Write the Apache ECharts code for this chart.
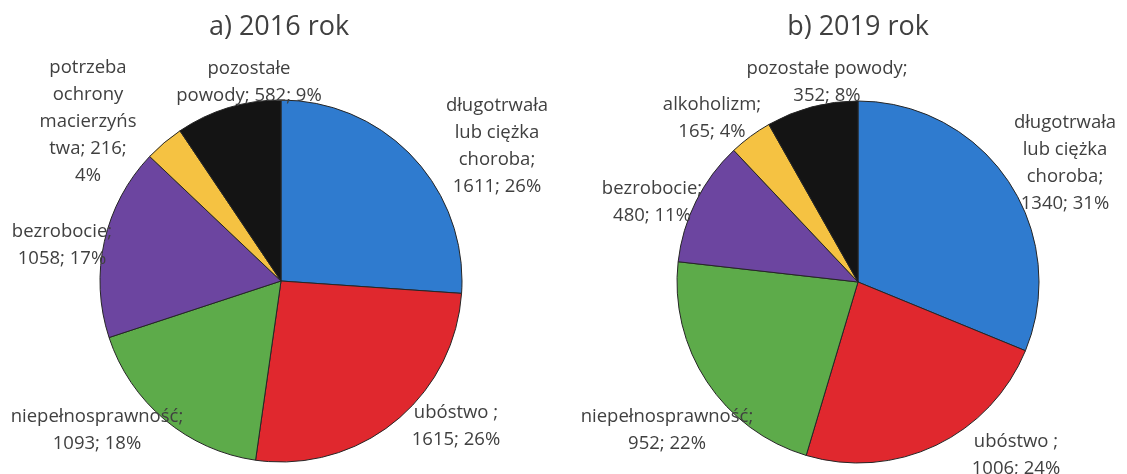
<!DOCTYPE html>
<html>
<head>
<meta charset="utf-8">
<script src="https://cdn.jsdelivr.net/npm/echarts@6/dist/echarts.min.js"></script>
<style>
  html, body { margin: 0; padding: 0; background: #ffffff; }
  #chart { width: 1127px; height: 474px; }
</style>
</head>
<body>
<div id="chart"></div>
<script>
// ---- data ----
const titles = ['a) 2016 rok', 'b) 2019 rok'];
const names2016 = ['długotrwała\nlub ciężka\nchoroba', 'ubóstwo ', 'niepełnosprawność', 'bezrobocie', 'potrzeba\nochrony\nmacierzyńs\ntwa', 'pozostałe\npowody'];
const values2016 = [1611, 1615, 1093, 1058, 216, 582];
const names2019 = ['długotrwała\nlub ciężka\nchoroba', 'ubóstwo ', 'niepełnosprawność', 'bezrobocie', 'alkoholizm', 'pozostałe powody'];
const values2019 = [1340, 1006, 952, 480, 165, 352];

// ---- styling / layout ----
const colors = ['#2f7bcf', '#e0282e', '#5dab4a', '#6c45a0', '#f5c242', '#141414'];
// separators: [between name and value, between value and percent]
const seps2016 = [['\n', ' '], ['\n', ' '], ['\n', ' '], ['\n', ' '], [' ', '\n'], [' ', ' ']];
const seps2019 = [['\n', ' '], ['\n', ' '], ['\n', ' '], ['\n', ' '], ['\n', ' '], ['\n', ' ']];
const labelPos2016 = [[497, 146], [456, 426], [97, 430], [62, 245], [88, 122], [249, 82]];
const labelPos2019 = [[1065, 163], [1016, 455], [667, 430], [652, 202], [712, 118], [827, 82]];

const textColor = '#404040';
const font = 'Open Sans';

function makeSeries(names, values, seps, pos, center) {
  return {
    type: 'pie',
    center: center,
    radius: 181,
    startAngle: 90,
    clockwise: true,
    avoidLabelOverlap: false,
    percentPrecision: 0,
    silent: true,
    animation: false,
    data: names.map((n, i) => ({ name: n, value: values[i], itemStyle: { color: colors[i] } })),
    itemStyle: { borderColor: '#262626', borderWidth: 1 },
    label: {
      show: true,
      position: 'outside',
      color: textColor,
      fontFamily: font,
      fontSize: 18.5,
      lineHeight: 27,
      formatter: p => p.name + ';' + seps[p.dataIndex][0] + p.value + ';' + seps[p.dataIndex][1] + p.percent + '%'
    },
    labelLine: { show: false },
    labelLayout: p => ({ x: pos[p.dataIndex][0], y: pos[p.dataIndex][1], align: 'center', verticalAlign: 'middle' })
  };
}

const chart = echarts.init(document.getElementById('chart'), null, { renderer: 'canvas' });
chart.setOption({
  backgroundColor: '#ffffff',
  animation: false,
  title: [
    { text: titles[0], left: 274, top: 9, textAlign: 'center',
      textStyle: { fontFamily: font, fontSize: 27, fontWeight: 'normal', color: textColor } },
    { text: titles[1], left: 853, top: 9, textAlign: 'center',
      textStyle: { fontFamily: font, fontSize: 27, fontWeight: 'normal', color: textColor } }
  ],
  series: [
    makeSeries(names2016, values2016, seps2016, labelPos2016, [281, 281]),
    makeSeries(names2019, values2019, seps2019, labelPos2019, [858, 282])
  ]
});
</script>
</body>
</html>
